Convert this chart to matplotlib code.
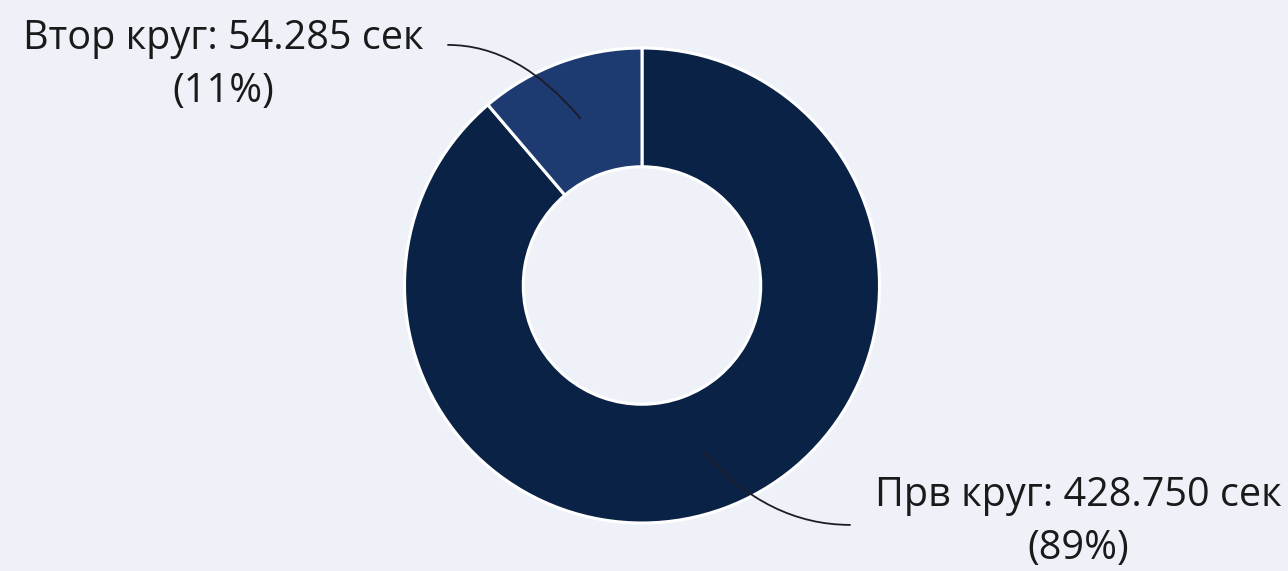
import numpy as np
import matplotlib
matplotlib.use('Agg')
import matplotlib.pyplot as plt

plt.rcParams['font.family'] = ['Open Sans', 'DejaVu Sans']

# lap times in seconds
labels = ['Прв круг', 'Втор круг']
seconds = [428.750, 54.285]
colors = ['#0a2246', '#1d3b70']

bg = '#eef2f8'
fig = plt.figure(figsize=(12.88, 5.71), dpi=100, facecolor=bg)
ax = fig.add_axes([0, 0, 1, 1])
ax.set_facecolor(bg)

wedges, _ = ax.pie(seconds, colors=colors, startangle=90, counterclock=False,
                   radius=1.0, wedgeprops=dict(width=0.5, edgecolor='white', linewidth=2.2))

ax.set_xlim(-642 / 237.5, (1288 - 642) / 237.5)
ax.set_ylim(-285.5 / 237.5, 285.5 / 237.5)
ax.set_aspect('auto')
ax.axis('off')

total = sum(seconds)
# text centre and leader start for each slice
text_pos = [(1.836, -0.998), (-1.764, 0.928)]
line_start = [(0.876, -1.008), (-0.817, 1.013)]
end_angle = [-48, -50]

for w, name, val, tp, ls, ang in zip(wedges, labels, seconds, text_pos, line_start, end_angle):
    mid = np.deg2rad((w.theta1 + w.theta2) / 2)
    anchor = (0.75 * np.cos(mid), 0.75 * np.sin(mid))
    pct = val / total * 100
    ax.text(tp[0], tp[1], f'{name}: {val:.3f} сек\n({pct:.0f}%)', ha='center', va='center',
            multialignment='center', fontsize=28.5, color='#1a1a1a', linespacing=1.4)
    ax.annotate('', xy=anchor, xytext=ls,
                arrowprops=dict(arrowstyle='-', color='#1c1c28', lw=1.3,
                                shrinkA=0, shrinkB=0,
                                connectionstyle=f'angle3,angleA=0,angleB={ang}'))

fig.savefig('out.png', dpi=100, facecolor=bg)
